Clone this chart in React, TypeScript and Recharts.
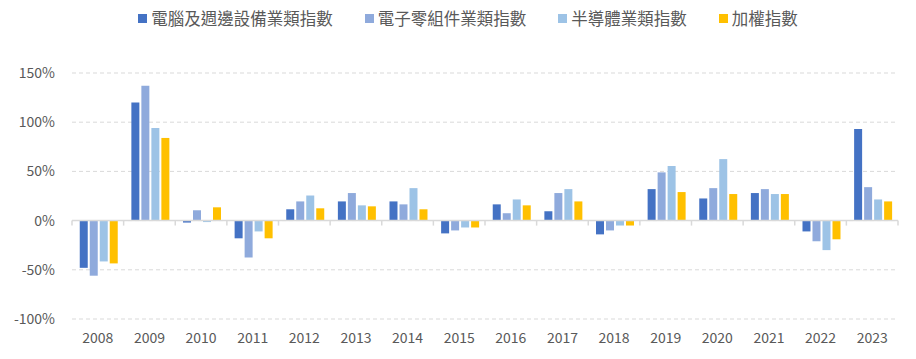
import { BarChart, Bar, XAxis, YAxis, CartesianGrid, ReferenceLine } from 'recharts'

const years = ['2008', '2009', '2010', '2011', '2012', '2013', '2014', '2015', '2016', '2017', '2018', '2019', '2020', '2021', '2022', '2023']
const computerIdx = [-48, 120, -2, -18, 11.5, 19.5, 19.5, -13, 16.5, 9.5, -14, 32, 22.5, 28, -11, 93]
const componentIdx = [-56, 137, 10.5, -37.5, 19.5, 28, 16.5, -10, 7.5, 28, -10, 49, 33, 32, -21, 34]
const semiIdx = [-41.5, 94, -1.5, -11, 25.5, 15.5, 33, -7, 21.5, 32, -5, 55.5, 62.5, 27, -30, 21.5]
const taiex = [-43.5, 84, 13.5, -18, 12.5, 14.5, 11.5, -7, 15.5, 19.5, -5, 29, 27, 27, -19, 19.5]
const yTicks = [-100, -50, 0, 50, 100, 150]

const SERIES = [
  { key: 'computer', name: '電腦及週邊設備業類指數', color: '#4472C4' },
  { key: 'component', name: '電子零組件業類指數', color: '#8FAADC' },
  { key: 'semi', name: '半導體業類指數', color: '#9DC3E6' },
  { key: 'taiex', name: '加權指數', color: '#FFC000' },
]

const data = years.map((year, i) => ({
  year,
  computer: computerIdx[i],
  component: componentIdx[i],
  semi: semiIdx[i],
  taiex: taiex[i],
}))

const FONT = '"Noto Sans CJK TC", "Noto Sans", sans-serif'
const TEXT = '#595959'

// zero axis line with small ticks at the category boundaries
function ZeroAxis(props: any) {
  const { x1, x2, y1 } = props
  if (x1 == null) return null
  const step = (x2 - x1) / years.length
  const marks = []
  for (let i = 0; i <= years.length; i++) {
    const x = x1 + step * i
    marks.push(<line key={i} x1={x} x2={x} y1={y1} y2={y1 + 5} stroke="#d9d9d9" strokeWidth={1.5} />)
  }
  return (
    <g>
      <line x1={x1} x2={x2} y1={y1} y2={y1} stroke="#d9d9d9" strokeWidth={1.5} />
      {marks}
    </g>
  )
}

function LegendRow() {
  return (
    <div style={{
      position: 'absolute', top: 6, left: 0, width: 916, paddingLeft: 20, boxSizing: 'border-box',
      display: 'flex', justifyContent: 'center', gap: 32,
      fontFamily: FONT, fontSize: 16.5, color: TEXT, lineHeight: '24px',
    }}>
      {SERIES.map((s) => (
        <div key={s.key} style={{ display: 'flex', alignItems: 'center' }}>
          <span style={{ width: 9, height: 9, background: s.color, marginRight: 4, display: 'inline-block' }} />
          <span>{s.name}</span>
        </div>
      ))}
    </div>
  )
}

export default function App() {
  return (
    <div style={{ position: 'absolute', top: 0, left: 0, width: 916, height: 359, background: '#fff' }}>
      <LegendRow />
      <BarChart
        width={916}
        height={359}
        data={data}
        margin={{ top: 73, right: 18, left: 0, bottom: 10 }}
        barCategoryGap="15%"
        barGap={2}
      >
        <CartesianGrid vertical={false} stroke="#d9d9d9" strokeDasharray="4 3" />
        <XAxis
          dataKey="year"
          axisLine={false}
          tickLine={false}
          tickSize={0}
          tickMargin={14}
          height={30}
          interval={0}
          tick={{ fontFamily: FONT, fontSize: 14, fill: TEXT }}
        />
        <YAxis
          domain={[-100, 150]}
          ticks={yTicks}
          width={72}
          axisLine={false}
          tickLine={false}
          tickSize={0}
          tickMargin={17}
          tickFormatter={(v) => `${v}%`}
          tick={{ fontFamily: FONT, fontSize: 14, fill: TEXT }}
        />
        {SERIES.map((s) => (
          <Bar key={s.key} dataKey={s.key} name={s.name} fill={s.color} isAnimationActive={false} />
        ))}
        <ReferenceLine y={0} shape={(p: any) => <ZeroAxis {...p} />} />
      </BarChart>
    </div>
  )
}
